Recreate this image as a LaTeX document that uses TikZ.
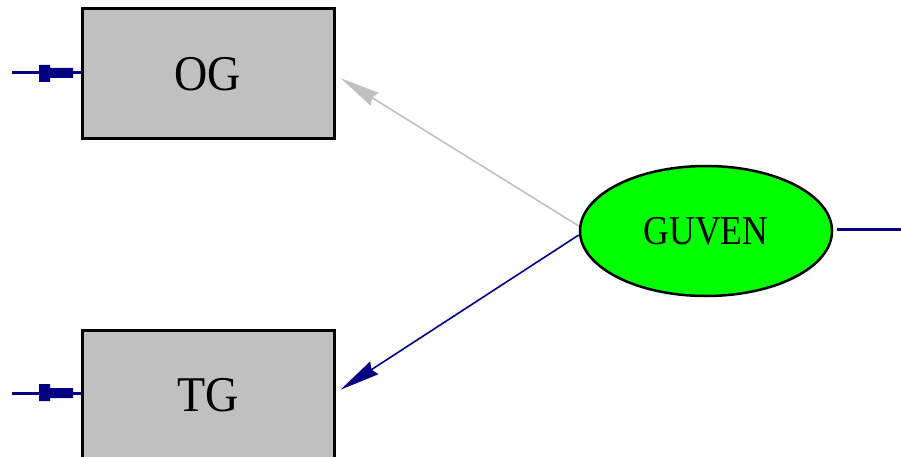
\documentclass[tikz,border=0pt]{standalone}
\usepackage{fontspec}
\setmainfont{Liberation Serif}
\usetikzlibrary{shapes.geometric,arrows.meta,calc}
\definecolor{pathblue}{RGB}{0,0,128}
\definecolor{boxgray}{RGB}{192,192,192}
\definecolor{latentgreen}{RGB}{0,255,0}
\begin{document}
\begin{tikzpicture}[x=1pt,y=-1pt,
  observed/.style={draw=black,line width=3pt,fill=boxgray,minimum width=252pt,minimum height=130pt,inner sep=0pt,font=\fontsize{50}{50}\selectfont},
  latent/.style={ellipse,draw=black,line width=2.5pt,fill=latentgreen,minimum width=252pt,minimum height=130pt,inner sep=0pt,font=\fontsize{41}{41}\selectfont},
  errline/.style={draw=pathblue,line width=3pt},
  errhead/.style={fill=pathblue},
  loading/.style={line width=1.6pt,shorten >=6pt,-{Stealth[length=40pt,width=15pt,inset=3pt]}}]
\useasboundingbox (0,0) rectangle (901,457);
% indicators and latent variable
\node[observed] (OG) at (208,74) {\scalebox{0.92}[1]{OG}};
\node[observed] (TG) at (208,395) {\scalebox{0.92}[1]{TG}};
\node[latent] (GUVEN) at (706,231) {\scalebox{0.87}[1]{GUVEN}};
% error terms on the indicators
\coordinate (eOG) at (12,73);
\coordinate (eTG) at (12,393);
\draw[errline] (eOG) -- (OG.west |- eOG);
\fill[errhead] (39,65) rectangle (50,82) (50,68) rectangle (73,78);
\draw[errline] (eTG) -- (TG.west |- eTG);
\fill[errhead] (39,384) rectangle (50,401) (50,388) rectangle (73,398);
% disturbance on the latent variable
\coordinate (eG) at (901,229);
\draw[errline] ($(GUVEN.east)+(4,-2)$) -- (eG);
% factor loadings
\draw[loading,boxgray] ($(GUVEN.west)+(0,-5)$) -- (OG.east |- 0,75);
\draw[loading,pathblue] ($(GUVEN.west)+(0,4)$) -- (TG.east |- 0,393);
\end{tikzpicture}
\end{document}
